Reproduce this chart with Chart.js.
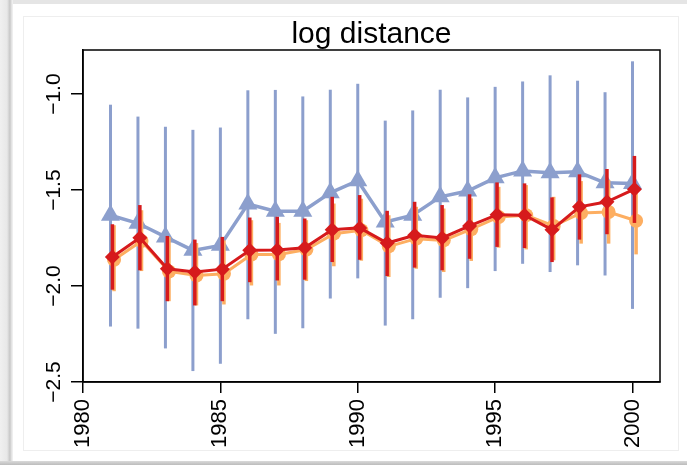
<!DOCTYPE html>
<html>
<head>
<meta charset="utf-8">
<title>log distance</title>
<script src="https://cdn.jsdelivr.net/npm/chart.js@4.4.1/dist/chart.umd.min.js"></script>
<style>
  html, body { margin: 0; padding: 0; }
  body { width: 687px; height: 465px; position: relative; overflow: hidden; background: #fff; }
  .edge-top { position: absolute; left: 0; top: 0; width: 687px; height: 4px; background: #e5e5e5; }
  .edge-left { position: absolute; left: 0; top: 0; width: 13px; height: 465px;
    background: linear-gradient(to right, #f0f0f0 0, #e8e8e8 7px, #c6c6c6 10px, #dcdcdc 11px, #f4f4f4 13px); }
  .edge-bottom { position: absolute; left: 0; bottom: 0; width: 687px; height: 4px; background: linear-gradient(#dadada, #bcbcbc); }
  .card { position: absolute; left: 23px; top: 16px; width: 654px; height: 433px; border: 1px solid #eeeeee; }
  #wrap { position: absolute; left: 0; top: 0; width: 687px; height: 465px; }
</style>
</head>
<body>
<div class="edge-top"></div>
<div class="edge-left"></div>
<div class="edge-bottom"></div>
<div class="card"></div>
<div id="wrap"><canvas id="chart" width="687" height="465"></canvas></div>
<script>
// years on the x axis
const years = [1981, 1982, 1983, 1984, 1985, 1986, 1987, 1988, 1989, 1990,
               1991, 1992, 1993, 1994, 1995, 1996, 1997, 1998, 1999, 2000]

// blue triangles: estimate with wide interval
const blueMean = [-1.631, -1.673, -1.744, -1.814, -1.788, -1.573, -1.610, -1.610, -1.514, -1.451,
                  -1.666, -1.631, -1.535, -1.505, -1.436, -1.400, -1.410, -1.405, -1.462, -1.465]
const blueLow  = [-2.211, -2.222, -2.325, -2.443, -2.405, -2.173, -2.249, -2.220, -2.065, -1.960,
                  -2.206, -2.173, -2.061, -2.011, -1.922, -1.884, -1.927, -1.892, -1.945, -2.119]
const blueHigh = [-1.055, -1.117, -1.170, -1.186, -1.174, -0.980, -0.978, -1.012, -0.977, -0.946,
                  -1.138, -1.085, -0.977, -1.017, -0.962, -0.934, -0.902, -0.930, -0.990, -0.829]

// orange circles
const orangeMean = [-1.863, -1.765, -1.924, -1.945, -1.936, -1.836, -1.835, -1.810, -1.727, -1.709,
                    -1.793, -1.753, -1.762, -1.704, -1.640, -1.631, -1.687, -1.619, -1.614, -1.660]
const orangeLow  = [-2.027, -1.922, -2.079, -2.101, -2.096, -1.997, -1.997, -1.974, -1.897, -1.868,
                    -1.953, -1.910, -1.927, -1.869, -1.800, -1.809, -1.866, -1.779, -1.779, -1.835]
const orangeHigh = [-1.683, -1.605, -1.744, -1.776, -1.762, -1.657, -1.671, -1.657, -1.570, -1.545,
                    -1.631, -1.587, -1.596, -1.543, -1.483, -1.474, -1.535, -1.453, -1.448, -1.474]

// red diamonds
const redMean = [-1.849, -1.748, -1.910, -1.927, -1.912, -1.814, -1.812, -1.800, -1.706, -1.697,
                 -1.776, -1.735, -1.749, -1.687, -1.628, -1.631, -1.706, -1.587, -1.561, -1.495]
const redLow  = [-2.019, -1.918, -2.079, -2.101, -2.079, -1.980, -1.971, -1.967, -1.875, -1.863,
                 -1.948, -1.904, -1.918, -1.858, -1.796, -1.802, -1.875, -1.758, -1.730, -1.671]
const redHigh = [-1.678, -1.578, -1.739, -1.758, -1.744, -1.643, -1.639, -1.648, -1.535, -1.526,
                 -1.608, -1.561, -1.578, -1.522, -1.460, -1.465, -1.538, -1.418, -1.390, -1.322]

// axis ticks
const xTicks = [1980, 1985, 1990, 1995, 2000]
const yTicks = [-2.5, -2.0, -1.5, -1.0]

const BLUE = '#8c9fcd'
const ORANGE = '#fdae61'
const RED = '#d61a1c'

Chart.defaults.font.family = '"Liberation Sans", Arial, Helvetica, sans-serif'
Chart.defaults.color = '#000'

// small sideways shift so the three series don't sit on top of each other
function series(label, mean, low, high, shift, color, style, radius, order, lineWidth, barWidth) {
    return {
        label: label,
        data: years.map((y, i) => ({ x: y + shift, y: mean[i] })),
        errLow: low,
        errHigh: high,
        errColor: color,
        errWidth: barWidth,
        borderColor: color,
        backgroundColor: color,
        borderWidth: lineWidth,
        pointStyle: style,
        pointRadius: radius,
        pointBorderWidth: 0,
        pointBackgroundColor: color,
        tension: 0,
        order: order,
        clip: false
    }
}

// draw each series' vertical error bars right before the series itself
const errorBars = {
    id: 'errorBars',
    beforeDatasetDraw(chart, args) {
        const ds = chart.data.datasets[args.index]
        if (!ds.errLow) return
        const ctx = chart.ctx
        const xs = chart.scales.x
        const ys = chart.scales.y
        ctx.save()
        ctx.strokeStyle = ds.errColor
        ctx.lineWidth = ds.errWidth
        ctx.lineCap = 'butt'
        ds.data.forEach((p, i) => {
            const px = xs.getPixelForValue(p.x)
            ctx.beginPath()
            ctx.moveTo(px, ys.getPixelForValue(ds.errHigh[i]))
            ctx.lineTo(px, ys.getPixelForValue(ds.errLow[i]))
            ctx.stroke()
        })
        ctx.restore()
    }
}

// closed black frame around the plot region
const frame = {
    id: 'frame',
    beforeDatasetsDraw(chart) {
        const a = chart.chartArea
        const ctx = chart.ctx
        ctx.save()
        ctx.strokeStyle = '#000'
        ctx.lineWidth = 1.5
        ctx.strokeRect(a.left, a.top, a.right - a.left, a.bottom - a.top)
        ctx.restore()
    }
}

const ctx = document.getElementById('chart').getContext('2d')
new Chart(ctx, {
    type: 'line',
    data: {
        datasets: [
            series('red', redMean, redLow, redHigh, 0.07, RED, 'rectRot', 7.5, 1, 3, 3.5),
            series('orange', orangeMean, orangeLow, orangeHigh, 0.13, ORANGE, 'circle', 7, 2, 3, 3.5),
            series('blue', blueMean, blueLow, blueHigh, 0, BLUE, 'triangle', 11, 3, 3.5, 3)
        ]
    },
    options: {
        responsive: false,
        animation: false,
        events: [],
        layout: { padding: { left: 0, right: 27, top: 0, bottom: 0 } },
        plugins: {
            legend: { display: false },
            tooltip: { enabled: false },
            title: {
                display: true,
                text: 'log distance',
                fullSize: false,
                color: '#000',
                font: { size: 30, weight: 'normal', lineHeight: 1 },
                padding: { top: 20, bottom: 0 }
            }
        },
        scales: {
            x: {
                type: 'linear',
                min: 1980,
                max: 2001,
                afterBuildTicks: axis => { axis.ticks = xTicks.map(v => ({ value: v })) },
                afterFit: axis => { axis.height = 83 },
                ticks: {
                    minRotation: 90,
                    maxRotation: 90,
                    padding: 6,
                    font: { size: 22 },
                    callback: v => String(v)
                },
                grid: { drawOnChartArea: false, tickLength: 11, color: '#000', lineWidth: 1.5 },
                border: { color: '#000', width: 1.5 }
            },
            y: {
                type: 'linear',
                min: -2.5,
                max: -0.77,
                afterBuildTicks: axis => { axis.ticks = yTicks.map(v => ({ value: v })) },
                afterFit: axis => { axis.width = 83 },
                ticks: {
                    minRotation: 90,
                    maxRotation: 90,
                    crossAlign: 'center',
                    padding: -4,
                    font: { size: 21 },
                    callback: v => v.toFixed(1).replace('-', '\u2212')
                },
                grid: { drawOnChartArea: false, tickLength: 12, color: '#000', lineWidth: 1.5 },
                border: { color: '#000', width: 1.5 }
            }
        }
    },
    plugins: [errorBars, frame]
})
</script>
</body>
</html>
